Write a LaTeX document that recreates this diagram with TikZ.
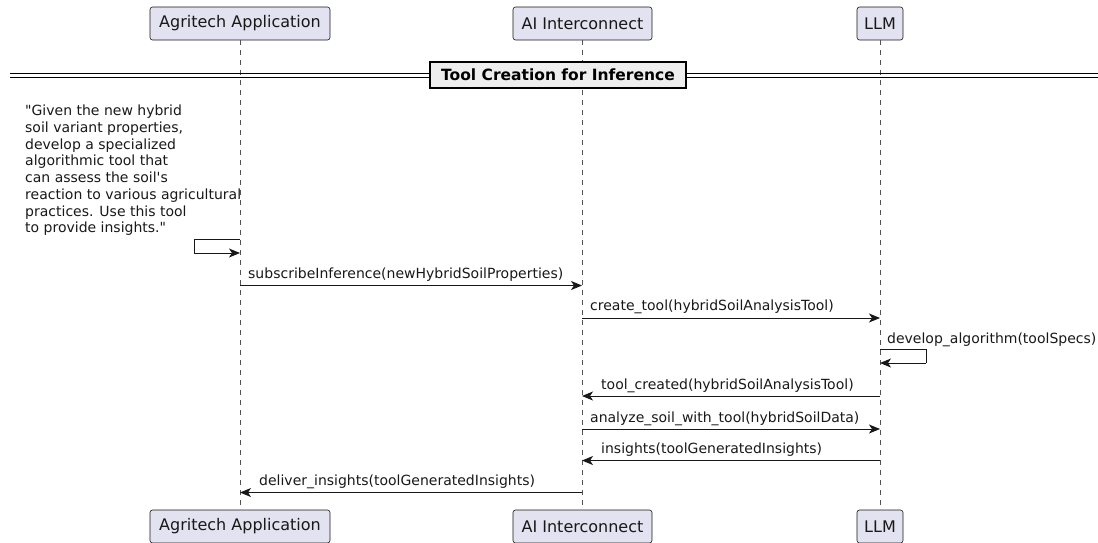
\documentclass[tikz,border=0pt]{standalone}
\usepackage{fontspec}
\setmainfont{DejaVu Sans}[Ligatures=TeXOff]
\usetikzlibrary{arrows.meta}
\definecolor{partfill}{HTML}{E2E2F0}
\definecolor{ink}{HTML}{181818}
\definecolor{divfill}{HTML}{EEEEEE}
\tikzset{
  part/.style={draw=ink, line width=0.6pt, fill=partfill, rounded corners=2.5pt,
    minimum height=33pt, inner sep=0pt, font=\fontsize{16}{18}\selectfont, text=ink},
  lifeline/.style={draw=ink!75, line width=0.5pt, dash pattern=on 5pt off 5pt},
  msg/.style={draw=ink, line width=0.9pt, -{Stealth[length=11pt,width=9pt,inset=3pt]}},
  selfmsg/.style={draw=ink, line width=0.9pt},
  lbl/.style={anchor=west, inner sep=0pt, font=\fontsize{14}{16}\selectfont, text=ink},
  divbox/.style={draw=black, line width=1.6pt, fill=divfill, inner sep=0pt,
    minimum width=256pt, minimum height=26pt, font=\bfseries\fontsize{15.5}{17}\selectfont},
}
\begin{document}
\begin{tikzpicture}[x=1pt,y=-1pt]
\useasboundingbox (0,0) rectangle (1098,542);
\clip (0,0) rectangle (1098,542);
% participants
\node[part, minimum width=180pt] (agT) at (240,23.5) {Agritech Application};
\node[part, minimum width=139pt] (aiT) at (582.5,23.5) {AI Interconnect};
\node[part, minimum width=46pt] (llmT) at (880,23.5) {LLM};
\node[part, minimum width=180pt] (agB) at (240,526.5) {Agritech Application};
\node[part, minimum width=139pt] (aiB) at (582.5,526.5) {AI Interconnect};
\node[part, minimum width=46pt] (llmB) at (880,526.5) {LLM};
% lifelines
\draw[lifeline] (agT.south) -- (agB.north);
\draw[lifeline] (aiT.south) -- (aiB.north);
\draw[lifeline] (llmT.south) -- (llmB.north);
% divider
\coordinate (dl1) at (10,73.5);
\coordinate (dr1) at (1098,73.5);
\coordinate (dl2) at (10,77.5);
\coordinate (dr2) at (1098,77.5);
\draw[black, line width=1pt] (dl1) -- (dr1);
\draw[black, line width=1pt] (dl2) -- (dr2);
\node[divbox] (div) at (558,75) {Tool Creation for Inference};
% note text of self message
\node[anchor=north west, inner sep=0pt, align=left, text=ink,
  font=\fontsize{14}{16.7}\selectfont] (note) at (25,105)
  {"Given the new hybrid\\soil variant properties,\\develop a specialized\\algorithmic tool that\\can assess the soil's\\reaction to various agricultural\\practices. Use this tool\\to provide insights."};
% self message on Agritech
\coordinate (s1a) at (240,239);
\coordinate (s1b) at (194,239);
\coordinate (s1c) at (194,253);
\coordinate (s1d) at (240,253);
\draw[selfmsg] (s1a) -- (s1b) -- (s1c);
\draw[msg] (s1c) -- (s1d);
% message coordinates
\coordinate (m1a) at (240,285.5);  \coordinate (m1b) at (582,285.5);
\coordinate (m2a) at (582,318);    \coordinate (m2b) at (880,318);
\coordinate (s2a) at (880,349.5);  \coordinate (s2b) at (926,349.5);
\coordinate (s2c) at (926,363);    \coordinate (s2d) at (880,363);
\coordinate (m3a) at (880,396);    \coordinate (m3b) at (582,396);
\coordinate (m4a) at (582,429);    \coordinate (m4b) at (880,429);
\coordinate (m5a) at (880,460.5);  \coordinate (m5b) at (582,460.5);
\coordinate (m6a) at (582,492.5);  \coordinate (m6b) at (240,492.5);
\draw[msg] (m1a) -- (m1b);
\node[lbl] (l1) at (248,274.5) {subscribeInference(newHybridSoilProperties)};
\draw[msg] (m2a) -- (m2b);
\node[lbl] (l2) at (590,307) {create\_tool(hybridSoilAnalysisTool)};
\draw[selfmsg] (s2a) -- (s2b) -- (s2c);
\draw[msg] (s2c) -- (s2d);
\node[lbl] (ls) at (887,339.5) {develop\_algorithm(toolSpecs)};
\draw[msg] (m3a) -- (m3b);
\node[lbl] (l3) at (601,385.5) {tool\_created(hybridSoilAnalysisTool)};
\draw[msg] (m4a) -- (m4b);
\node[lbl] (l4) at (590,418.5) {analyze\_soil\_with\_tool(hybridSoilData)};
\draw[msg] (m5a) -- (m5b);
\node[lbl] (l5) at (601,450) {insights(toolGeneratedInsights)};
\draw[msg] (m6a) -- (m6b);
\node[lbl] (l6) at (259,482) {deliver\_insights(toolGeneratedInsights)};
\end{tikzpicture}
\end{document}
